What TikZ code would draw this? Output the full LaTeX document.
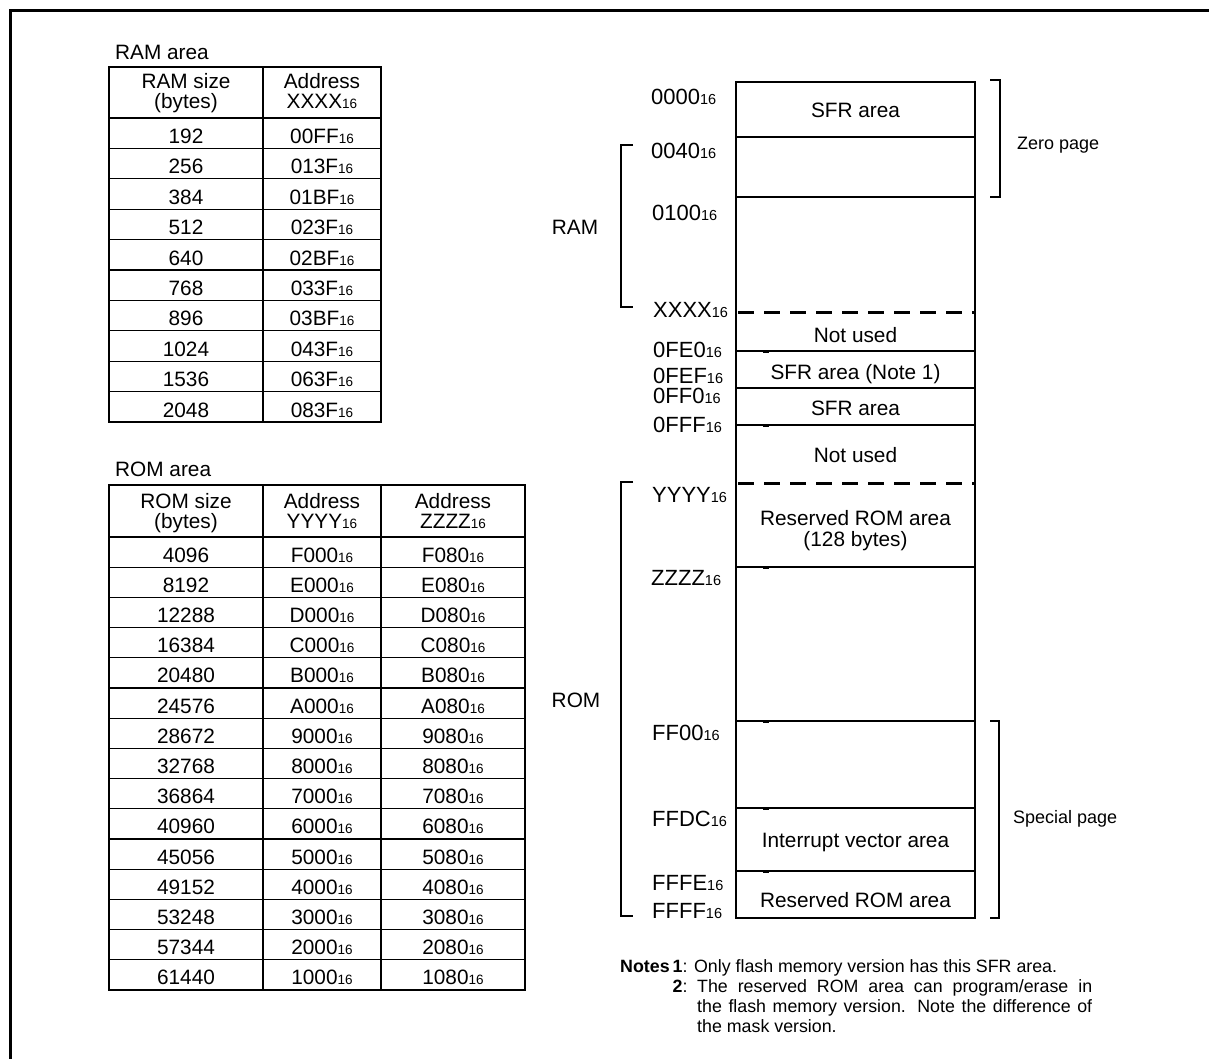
\documentclass[tikz,border=0pt]{standalone}
\usepackage{fontspec}
\setmainfont{Liberation Sans}
\newcommand\hexs[1]{#1{\fontsize{13.5}{13.5}\selectfont 16}}
\newcommand\hexl[1]{#1{\fontsize{14.5}{14.5}\selectfont 16}}
\begin{document}
\begin{tikzpicture}[x=1pt,y=-1pt,
  tbl/.style={line width=1.2pt},
  mapline/.style={line width=2pt},
  dashl/.style={line width=3pt, dash pattern=on 16pt off 10pt},
  txt/.style={font=\fontsize{20.8}{20}\selectfont, inner sep=0pt, anchor=base},
  adr/.style={font=\fontsize{22}{22}\selectfont, inner sep=0pt, anchor=base west},
  small/.style={font=\fontsize{18}{18}\selectfont, inner sep=0pt, anchor=base west},
  notes/.style={font=\fontsize{17.8}{20}\selectfont, inner sep=0pt, anchor=base west},
  thinbr/.style={line width=1.2pt},
  thickbr/.style={line width=2pt},
  tickmark/.style={line width=3pt}]
\useasboundingbox (0,0) rectangle (1209,1059);
% frame (top and left)
\coordinate (fa) at (10.5,1059);
\coordinate (fb) at (10.5,10.5);
\coordinate (fc) at (1209,10.5);
\draw[line width=3pt] (fa) -- (fb) -- (fc);

% ---------------- RAM table ----------------
\node[txt, anchor=base west] (ramtitle) at (115,59.3) {RAM area};
\draw[tbl] (109,67) rectangle (381,422);
\draw[tbl] (263,67) -- (263,422);
\foreach \i in {0,...,9} \draw[tbl] (109,{118+30.4*\i}) -- (381,{118+30.4*\i});
\node[txt] (ramh1a) at (186,89) {RAM size};
\node[txt] (ramh1b) at (186,108.3) {(bytes)};
\node[txt] (ramh2a) at (322,89) {Address};
\node[txt] (ramh2b) at (322,108.3) {\hexs{XXXX}};
\foreach \s/\a [count=\i from 0] in {192/00FF,256/013F,384/01BF,512/023F,640/02BF,768/033F,896/03BF,1024/043F,1536/063F,2048/083F}{
  \node[txt] (rams\i) at (186,{118+30.4*\i+25.5}) {\s};
  \node[txt] (rama\i) at (322,{118+30.4*\i+25.5}) {\hexs{\a}};
}

% ---------------- ROM table ----------------
\node[txt, anchor=base west] (romtitle) at (115,476) {ROM area};
\draw[tbl] (109,485) rectangle (525,990);
\draw[tbl] (263,485) -- (263,990);
\draw[tbl] (381,485) -- (381,990);
\foreach \i in {0,...,14} \draw[tbl] (109,{537+30.2*\i}) -- (525,{537+30.2*\i});
\node[txt] (romh1a) at (186,508.3) {ROM size};
\node[txt] (romh1b) at (186,528.3) {(bytes)};
\node[txt] (romh2a) at (322,508.3) {Address};
\node[txt] (romh2b) at (322,528.3) {\hexs{YYYY}};
\node[txt] (romh3a) at (453,508.3) {Address};
\node[txt] (romh3b) at (453,528.3) {\hexs{ZZZZ}};
\foreach \s/\a/\b [count=\i from 0] in {4096/F000/F080,8192/E000/E080,12288/D000/D080,16384/C000/C080,20480/B000/B080,24576/A000/A080,28672/9000/9080,32768/8000/8080,36864/7000/7080,40960/6000/6080,45056/5000/5080,49152/4000/4080,53248/3000/3080,57344/2000/2080,61440/1000/1080}{
  \node[txt] (roms\i) at (186,{537+30.2*\i+25}) {\s};
  \node[txt] (roma\i) at (322,{537+30.2*\i+25}) {\hexs{\a}};
  \node[txt] (romb\i) at (453,{537+30.2*\i+25}) {\hexs{\b}};
}

% ---------------- Memory map ----------------
\draw[mapline] (736,82) rectangle (975,918);
\foreach \y in {137,197,351,388,425,567,721,808,871} \draw[mapline] (736,\y) -- (975,\y);
\draw[dashl] (738,312) -- (975,312);
\draw[dashl] (738,483) -- (975,483);
\foreach \y in {351,425,567,721,808,871} \draw[tickmark] (763,\y) -- (769,\y);

\node[txt] (m1) at (855.5,118) {SFR area};
\node[txt] (m2) at (855.5,342) {Not used};
\node[txt] (m3) at (855.5,379) {SFR area (Note 1)};
\node[txt] (m4) at (855.5,415) {SFR area};
\node[txt] (m5) at (855.5,462.7) {Not used};
\node[txt] (m6a) at (855.5,525.7) {Reserved ROM area};
\node[txt] (m6b) at (855.5,546) {(128 bytes)};
\node[txt] (m7) at (855.5,847.7) {Interrupt vector area};
\node[txt] (m8) at (855.5,907.3) {Reserved ROM area};

% address labels
\node[adr] (a1) at (651,105) {\hexl{0000}};
\node[adr] (a2) at (651,159) {\hexl{0040}};
\node[adr] (a3) at (652,221) {\hexl{0100}};
\node[adr] (a4) at (653,317) {\hexl{XXXX}};
\node[adr] (a5) at (653,357.5) {\hexl{0FE0}};
\node[adr] (a6) at (653,383) {\hexl{0FEF}};
\node[adr] (a7) at (653,403) {\hexl{0FF0}};
\node[adr] (a8) at (653,432) {\hexl{0FFF}};
\node[adr] (a9) at (652,502) {\hexl{YYYY}};
\node[adr] (a10) at (651,585) {\hexl{ZZZZ}};
\node[adr] (a11) at (652,740) {\hexl{FF00}};
\node[adr] (a12) at (652,826) {\hexl{FFDC}};
\node[adr] (a13) at (652,890) {\hexl{FFFE}};
\node[adr] (a14) at (652,918) {\hexl{FFFF}};

% brackets
\draw[thickbr] (990,80) -- (1000,80) -- (1000,197) -- (990,197);
\draw[thickbr] (990,721) -- (999,721) -- (999,918) -- (990,918);
\draw[thinbr] (633,145) -- (621,145) -- (621,307) -- (633,307);
\draw[thinbr] (633,482) -- (621,482) -- (621,916) -- (633,916);
\node[small] (zp) at (1017,150) {Zero page};
\node[small] (sp) at (1013,823) {Special page};
\node[txt] (ram) at (575,234.5) {RAM};
\node[txt] (rom) at (576,707.5) {ROM};

% notes
\node[notes] (n1) at (620,972) {\textbf{Notes\,1}: Only flash memory version has this SFR area.};
\node[notes] (n2) at (672.5,992) {\textbf{2}:};
\node[notes] (n2b) at (697,992) {\parbox[t]{395pt}{\fontsize{17.8}{20}\selectfont
  \makebox[395pt][s]{The reserved ROM area can program/erase in}\\
  \makebox[395pt][s]{the flash memory version. Note the difference of}\\
  the mask version.}};
\end{tikzpicture}
\end{document}
